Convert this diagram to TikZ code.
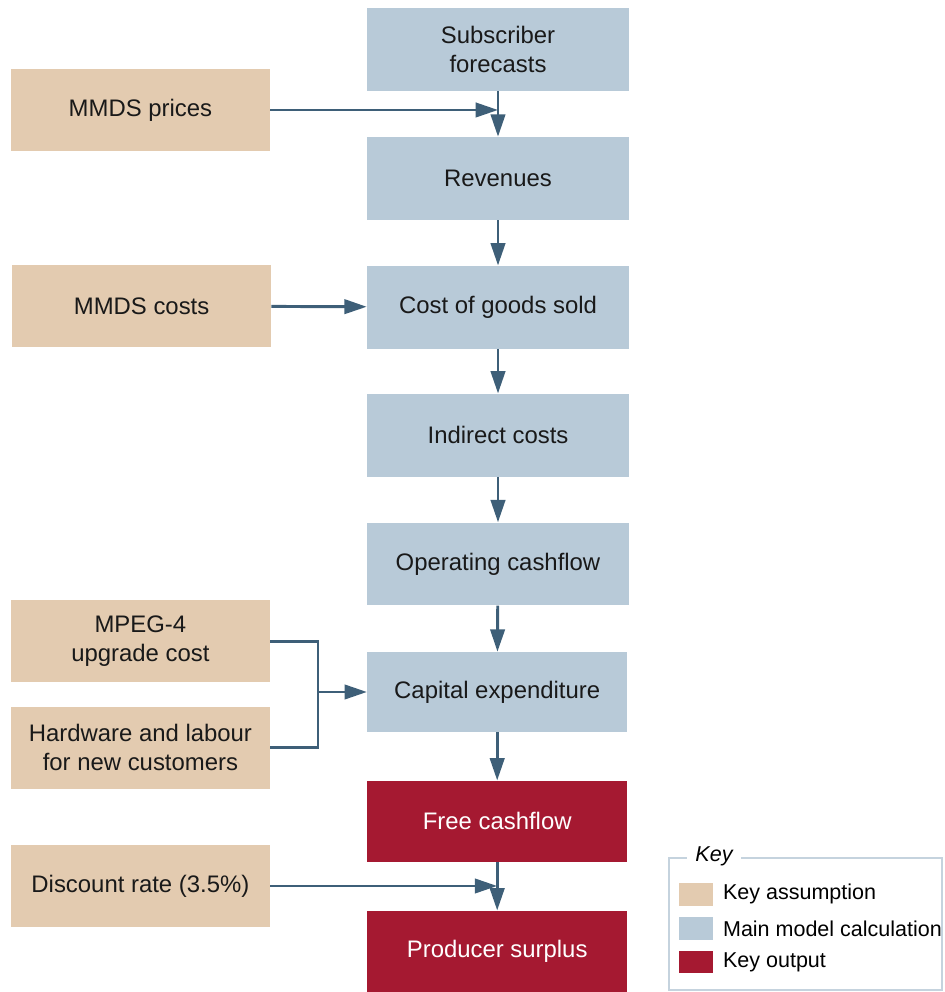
\documentclass[tikz,border=0pt]{standalone}
\usepackage{fontspec}
\setmainfont{Liberation Sans}
\usetikzlibrary{arrows.meta}
\definecolor{tanFill}{HTML}{E3CBB0}
\definecolor{calcFill}{HTML}{B8CAD8}
\definecolor{outFill}{HTML}{A51931}
\definecolor{arrowCol}{HTML}{3E5F78}
\definecolor{keyLine}{HTML}{C5D3DE}
\begin{document}
\begin{tikzpicture}[>={Triangle[length=0.56cm,width=0.36cm]}]
\tikzstyle{assume}=[rectangle,fill=tanFill,minimum width=6.48cm,minimum height=2.05cm,inner sep=0pt,align=center,text=black!90,font=\fontsize{17}{20.5}\selectfont]
\tikzstyle{calc}=[rectangle,fill=calcFill,minimum width=6.55cm,minimum height=2.07cm,inner sep=0pt,align=center,text=black!90,font=\fontsize{17}{20.5}\selectfont]
\tikzstyle{output}=[rectangle,fill=outFill,minimum width=6.5cm,minimum height=2.02cm,inner sep=0pt,align=center,text=white,font=\fontsize{17}{20.5}\selectfont]
\tikzstyle{swatch}=[rectangle,minimum width=0.85cm,minimum height=0.57cm,inner sep=0pt]
\tikzstyle{keyText}=[anchor=west,inner sep=0pt,text=black,font=\fontsize{15.3}{18}\selectfont]
\tikzstyle{link}=[draw=arrowCol,line width=2.1pt]

\useasboundingbox (0,0) rectangle (23.6,24.8);

%main column.
\node[calc] (subs)     at (12.45,23.56) {Subscriber\\forecasts};
\node[calc] (rev)      at (12.45,20.34) {Revenues};
\node[calc] (cogs)     at (12.45,17.12) {Cost of goods sold};
\node[calc] (indirect) at (12.45,13.92) {Indirect costs};
\node[calc] (opCash)   at (12.45,10.70) {Operating cashflow};
\node[calc, minimum width=6.5cm, minimum height=2.0cm] (capex) at (12.43,7.50) {Capital expenditure};
\node[output] (freeCash) at (12.43,4.27) {Free cashflow};
\node[output] (surplus)  at (12.43,1.02) {Producer surplus};

%assumptions.
\node[assume] (prices)   at (3.51,22.05) {MMDS prices};
\node[assume] (costs)    at (3.54,17.15) {MMDS costs};
\node[assume] (mpeg)     at (3.51,8.77)  {MPEG-4\\upgrade cost};
\node[assume] (hardware) at (3.51,6.11)  {Hardware and labour\\for new customers};
\node[assume] (discount) at (3.51,2.65)  {Discount rate (3.5\%)};

\draw[link,->] (subs) -- (rev);
\draw[link,->] (rev) -- (cogs);
\draw[link,->] (cogs) -- (indirect);
\draw[link,->] (indirect) -- (opCash);
\draw[link,->] (opCash) -- (capex);
\draw[link,->] (capex) -- (freeCash);
\draw[link,->] (freeCash) -- (surplus);

\coordinate (pricesIn) at (prices -| subs);
\draw[link,->] (prices) -- (pricesIn);
\draw[link,->] (costs) -- (cogs);

\coordinate (split) at (7.95,7.50);
\draw[link] (mpeg.east) -| (split) |- (hardware.east);
\draw[link,->] (split) -- (capex);

\coordinate (discountIn) at (discount -| freeCash);
\draw[link,->] (discount) -- (discountIn);

%key.
\draw[keyLine,line width=1.2pt] (16.72,0.05) rectangle (23.55,3.35);
\node[fill=white,inner xsep=6pt,font=\fontsize{15.3}{18}\selectfont\itshape] (keyTitle) at (17.85,3.38) {Key};
\node[swatch,fill=tanFill]  (keyTan)  at (17.40,2.44) {};
\node[swatch,fill=calcFill] (keyCalc) at (17.40,1.58) {};
\node[swatch,fill=outFill]  (keyOut)  at (17.40,0.75) {};
\node[keyText] (keyTanText)  at (18.07,2.44) {Key assumption};
\node[keyText] (keyCalcText) at (18.07,1.58) {Main model calculation};
\node[keyText] (keyOutText)  at (18.07,0.75) {Key output};

\end{tikzpicture}
\end{document}
